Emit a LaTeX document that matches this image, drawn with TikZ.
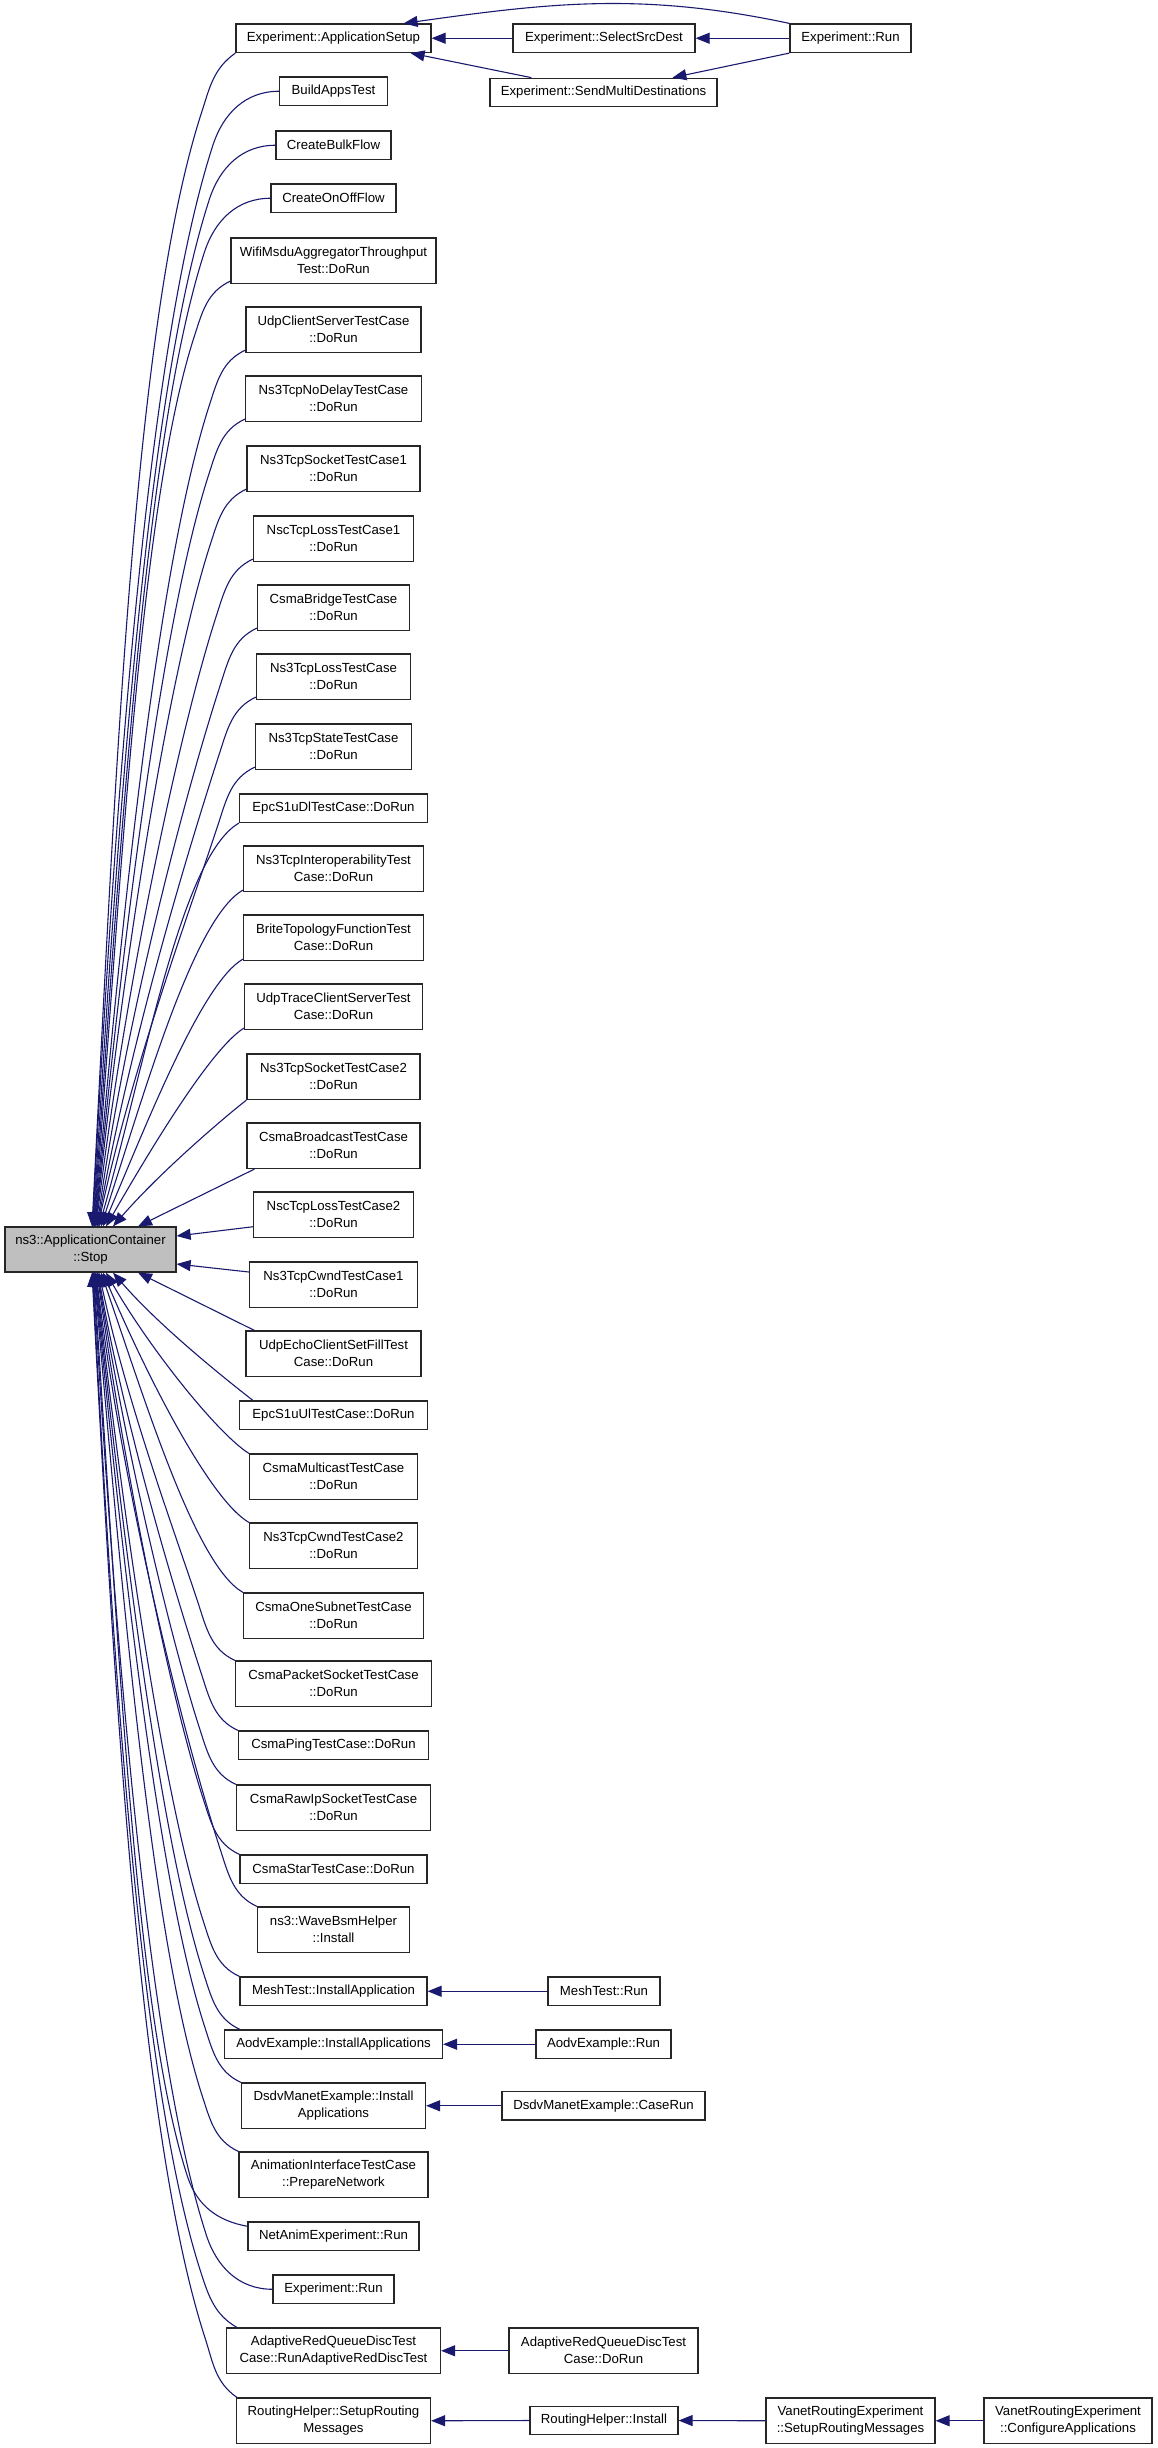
\documentclass[tikz,border=0pt]{standalone}
\usepackage{fontspec}
\newfontfamily\dfont{Liberation Sans}
\usetikzlibrary{arrows.meta,calc}
\definecolor{edgeblue}{HTML}{191970}
\definecolor{stopgray}{HTML}{BFBFBF}
\tikzset{
  box/.style={draw=black!85, line width=1.2bp, fill=white, inner sep=0pt, align=center,
    font=\dfont\fontsize{13.2bp}{17bp}\selectfont},
  conn/.style={draw=edgeblue, line width=1.1bp, -{Triangle[length=14bp,width=11bp]}}
}
\newcommand\bx[5]{\node[box,minimum width=#3bp,minimum height=#4bp] (#1) at (#2) {#5};}
% two-segment bent edge: start, out, back angle at Q, Q offset, control spec, tip dx, stop anchor
\newcommand\tedge[7]{\draw[conn] (#1) to[out=#2,in=#3] ++(#4) .. controls #5 .. ($(stop.#7)+(#6,0)$);}
% single curve: start, control spec, tip dx, stop anchor
\newcommand\sedge[4]{\draw[conn] (#1) .. controls #2 .. ($(stop.#4)+(#3,0)$);}
\begin{document}
\begin{tikzpicture}[x=1bp,y=1bp]
\useasboundingbox (0,0) rectangle (1157,-2448);
% central node
\node[box,fill=stopgray,minimum width=171bp,minimum height=45bp] (stop) at (90.5,-1249.5) {ns3::ApplicationContainer\\::Stop};
% left column
\bx{n1}{333.5,-38.25}{195}{28.5}{Experiment::ApplicationSetup}
\bx{n2}{333.5,-91.25}{108}{28.5}{BuildAppsTest}
\bx{n3}{333.5,-145.25}{115}{28.5}{CreateBulkFlow}
\bx{n4}{333.5,-198.25}{125}{28.5}{CreateOnOffFlow}
\bx{n5}{333.5,-260.75}{205}{45.5}{WifiMsduAggregatorThroughput\\Test::DoRun}
\bx{n6}{333.5,-329.75}{175}{45.5}{UdpClientServerTestCase\\::DoRun}
\bx{n7}{333.5,-398.75}{176}{45.5}{Ns3TcpNoDelayTestCase\\::DoRun}
\bx{n8}{333.5,-468.75}{173}{45.5}{Ns3TcpSocketTestCase1\\::DoRun}
\bx{n9}{333.5,-538.75}{160}{45.5}{NscTcpLossTestCase1\\::DoRun}
\bx{n10}{333.5,-607.75}{152}{45.5}{CsmaBridgeTestCase\\::DoRun}
\bx{n11}{333.5,-676.75}{154}{45.5}{Ns3TcpLossTestCase\\::DoRun}
\bx{n12}{333.5,-746.75}{156}{45.5}{Ns3TcpStateTestCase\\::DoRun}
\bx{n13}{333.5,-808.25}{188}{28.5}{EpcS1uDlTestCase::DoRun}
\bx{n14}{333.5,-868.75}{180}{45.5}{Ns3TcpInteroperabilityTest\\Case::DoRun}
\bx{n15}{333.5,-937.75}{180}{45.5}{BriteTopologyFunctionTest\\Case::DoRun}
\bx{n16}{333.5,-1006.75}{178}{45.5}{UdpTraceClientServerTest\\Case::DoRun}
\bx{n17}{333.5,-1076.75}{173}{45.5}{Ns3TcpSocketTestCase2\\::DoRun}
\bx{n18}{333.5,-1145.75}{173}{45.5}{CsmaBroadcastTestCase\\::DoRun}
\bx{n19}{333.5,-1214.75}{160}{45.5}{NscTcpLossTestCase2\\::DoRun}
\bx{n20}{333.5,-1284.75}{168}{45.5}{Ns3TcpCwndTestCase1\\::DoRun}
\bx{n21}{333.5,-1353.75}{175}{45.5}{UdpEchoClientSetFillTest\\Case::DoRun}
\bx{n22}{333.5,-1415.25}{188}{28.5}{EpcS1uUlTestCase::DoRun}
\bx{n23}{333.5,-1476.75}{168}{45.5}{CsmaMulticastTestCase\\::DoRun}
\bx{n24}{333.5,-1545.75}{168}{45.5}{Ns3TcpCwndTestCase2\\::DoRun}
\bx{n25}{333.5,-1615.75}{180}{45.5}{CsmaOneSubnetTestCase\\::DoRun}
\bx{n26}{333.5,-1683.75}{196}{45.5}{CsmaPacketSocketTestCase\\::DoRun}
\bx{n27}{333.5,-1745.25}{190}{28.5}{CsmaPingTestCase::DoRun}
\bx{n28}{333.5,-1807.75}{194}{45.5}{CsmaRawIpSocketTestCase\\::DoRun}
\bx{n29}{333.5,-1869.25}{187}{28.5}{CsmaStarTestCase::DoRun}
\bx{n30}{333.5,-1929.75}{152}{45.5}{ns3::WaveBsmHelper\\::Install}
\bx{n31}{333.5,-1991.25}{187}{28.5}{MeshTest::InstallApplication}
\bx{n32}{333.5,-2044.25}{218}{28.5}{AodvExample::InstallApplications}
\bx{n33}{333.5,-2105.75}{184}{45.5}{DsdvManetExample::Install\\Applications}
\bx{n34}{333.5,-2174.75}{189}{45.5}{AnimationInterfaceTestCase\\::PrepareNetwork}
\bx{n35}{333.5,-2236.25}{171}{28.5}{NetAnimExperiment::Run}
\bx{n36}{333.5,-2289.25}{121}{28.5}{Experiment::Run}
\bx{n37}{333.5,-2350.75}{214}{45.5}{AdaptiveRedQueueDiscTest\\Case::RunAdaptiveRedDiscTest}
\bx{n38}{333.5,-2420.75}{194}{45.5}{RoutingHelper::SetupRouting\\Messages}
% right nodes
\bx{sel}{604,-38.25}{182}{28.5}{Experiment::SelectSrcDest}
\bx{smd}{603.5,-92.5}{227}{28.5}{Experiment::SendMultiDestinations}
\bx{run}{850.5,-38.25}{121}{28.5}{Experiment::Run}
\bx{meshrun}{604,-1991.25}{112}{28.5}{MeshTest::Run}
\bx{aodvrun}{603.5,-2044.25}{135}{28.5}{AodvExample::Run}
\bx{dsdvrun}{603.5,-2105.75}{203}{28.5}{DsdvManetExample::CaseRun}
\bx{adaptrun}{603.5,-2350.75}{189}{45.5}{AdaptiveRedQueueDiscTest\\Case::DoRun}
\bx{rhinst}{604,-2420.5}{148}{28.5}{RoutingHelper::Install}
\bx{vsetup}{850.5,-2420.75}{169}{45.5}{VanetRoutingExperiment\\::SetupRoutingMessages}
\bx{vconf}{1068,-2420.75}{168}{45.5}{VanetRoutingExperiment\\::ConfigureApplications}
% top right edges
\draw[conn] (sel.west) -- (n1.east);
\draw[conn] (run.west) -- (sel.east);
\draw[conn] ($(smd.north west)+(42,0)$) -- ($(n1.south east)+(-21,0)$);
\draw[conn] (run.south west) -- ($(smd.north west)+(183,0)$);
\draw[conn] (run.north west) .. controls +(168:150) and +(8:150) .. ($(n1.north east)+(-28,0)$);
% bottom right edges
\draw[conn] (meshrun.west) -- (n31.east);
\draw[conn] (aodvrun.west) -- (n32.east);
\draw[conn] (dsdvrun.west) -- (n33.east);
\draw[conn] (adaptrun.west) -- (n37.east);
\draw[conn] (rhinst.west) -- (n38.east);
\draw[conn] (vsetup.west) -- (rhinst.east);
\draw[conn] (vconf.west) -- (vsetup.east);
% edges into stop, from above
\tedge{n1.south west}{215}{72}{-34,-60}{+(252:220) and +(87:437)}{1.5}{north}
\tedge{n2.west}{180}{72}{-66,-54}{+(252:213) and +(87:425)}{2}{north}
\tedge{n3.west}{180}{72}{-66,-54}{+(252:203) and +(86.5:404)}{2.5}{north}
\tedge{n4.west}{180}{72}{-66,-54}{+(252:192) and +(86:383)}{3}{north}
\tedge{$(n5.south west)+(0,3)$}{205}{72}{-36,-55}{+(252:176) and +(85.5:350)}{3.5}{north}
\tedge{$(n6.south west)+(0,3)$}{205}{72}{-36,-55}{+(252:163) and +(85:324)}{4}{north}
\tedge{$(n7.south west)+(0,3)$}{205}{72}{-36,-55}{+(252:149) and +(84.5:297)}{4.5}{north}
\tedge{$(n8.south west)+(0,3)$}{205}{72}{-36,-55}{+(252:136) and +(84:270)}{5}{north}
\tedge{$(n9.south west)+(0,3)$}{205}{72}{-36,-55}{+(252:123) and +(83:244)}{5.5}{north}
\tedge{$(n10.south west)+(0,3)$}{205}{72}{-36,-55}{+(252:109) and +(82:218)}{6.5}{north}
\tedge{$(n11.south west)+(0,3)$}{205}{72}{-36,-55}{+(252:96) and +(80:191)}{7}{north}
\tedge{$(n12.south west)+(0,3)$}{205}{72}{-36,-55}{+(252:83) and +(78:165)}{7.5}{north}
\sedge{n13.south west}{+(210:67) and +(74:167)}{8.5}{north}
\sedge{$(n14.south west)+(0,2)$}{+(210:57) and +(72:143)}{10.5}{north}
\sedge{$(n15.south west)+(0,2)$}{+(210:47) and +(67:118)}{12.5}{north}
\sedge{$(n16.south west)+(0,2)$}{+(212:38) and +(60:95)}{15.5}{north}
\sedge{n17.south west}{+(218:29) and +(49:72)}{22.5}{north}
\draw[conn] ($(n18.south west)+(8,0)$) -- ($(stop.north)+(47.5,0)$);
\draw[conn] ($(n19.west)+(0,-12)$) -- ($(stop.east)+(0,13.5)$);
\draw[conn] ($(n20.west)+(0,12.75)$) -- ($(stop.east)+(0,-14.5)$);
\draw[conn] ($(n21.north west)+(9,0)$) -- ($(stop.south)+(47.5,0)$);
% edges into stop, from below
\sedge{$(n22.north west)+(14,0)$}{+(142:30) and +(311:74)}{22.5}{south}
\sedge{n23.north west}{+(148:36) and +(300:90)}{15.5}{south}
\sedge{n24.north west}{+(150:45) and +(293:113)}{12.5}{south}
\sedge{n25.north west}{+(150:55) and +(289:137)}{10.5}{south}
\tedge{n26.north west}{155}{288}{-36,55}{+(108:68) and +(282:136)}{8.5}{south}
\tedge{n27.north west}{155}{288}{-36,55}{+(108:82) and +(280:163)}{7.5}{south}
\tedge{n28.north west}{155}{288}{-36,55}{+(108:92) and +(279:183)}{7}{south}
\tedge{n29.north west}{155}{288}{-36,55}{+(108:106) and +(278:211)}{6.5}{south}
\tedge{n30.north west}{155}{288}{-36,55}{+(108:116) and +(277:231)}{5.5}{south}
\tedge{n31.north west}{155}{288}{-36,55}{+(108:129) and +(276.5:257)}{5}{south}
\tedge{$(n32.north west)+(16,0)$}{155}{288}{-36,55}{+(108:140) and +(276:278)}{4.5}{south}
\tedge{n33.north west}{155}{288}{-36,55}{+(108:150) and +(275.5:298)}{4}{south}
\tedge{n34.north west}{155}{288}{-36,55}{+(108:163) and +(275:324)}{3.5}{south}
\tedge{$(n35.west)+(0,10)$}{170}{288}{-60,50}{+(108:175) and +(274:349)}{3}{south}
\tedge{n36.west}{180}{288}{-66,54}{+(108:190) and +(273.5:378)}{2.5}{south}
\tedge{$(n37.north west)+(11,0)$}{150}{288}{-36,55}{+(108:197) and +(273:393)}{2}{south}
\tedge{$(n38.north west)+(1,0)$}{145}{288}{-32,60}{+(108:210) and +(273:418)}{1.5}{south}
\end{tikzpicture}
\end{document}
